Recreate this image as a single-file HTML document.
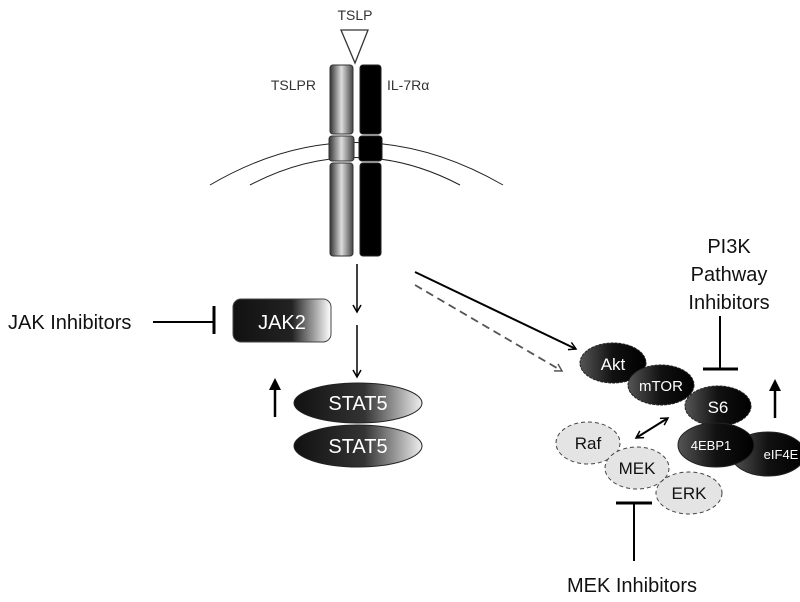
<!DOCTYPE html>
<html><head><meta charset="utf-8"><style>
html,body{margin:0;padding:0;background:#fff}
svg{display:block;font-family:"Liberation Sans",sans-serif}
</style></head><body>
<svg width="800" height="602" viewBox="0 0 800 602">
<defs>
<linearGradient id="gGray" x1="0" x2="1"><stop offset="0" stop-color="#333"/><stop offset="0.5" stop-color="#ddd"/><stop offset="1" stop-color="#444"/></linearGradient>
<linearGradient id="gDark" x1="0" x2="1"><stop offset="0" stop-color="#111"/><stop offset="0.6" stop-color="#222"/><stop offset="1" stop-color="#fff"/></linearGradient>
<linearGradient id="gOval" x1="0" x2="1"><stop offset="0" stop-color="#555"/><stop offset="0.5" stop-color="#111"/><stop offset="1" stop-color="#000"/></linearGradient>
<linearGradient id="gStat" x1="0" x2="1"><stop offset="0" stop-color="#111"/><stop offset="0.55" stop-color="#333"/><stop offset="1" stop-color="#eee"/></linearGradient>
<marker id="ah" markerWidth="10" markerHeight="10" refX="8" refY="5" orient="auto" markerUnits="userSpaceOnUse"><path d="M1,1 L8,5 L1,9" fill="none" stroke="#000" stroke-width="1.5"/></marker>
<marker id="ahs" markerWidth="10" markerHeight="10" refX="8" refY="5" orient="auto-start-reverse" markerUnits="userSpaceOnUse"><path d="M1,1 L8,5 L1,9" fill="none" stroke="#000" stroke-width="1.5"/></marker>
<marker id="ahg" markerWidth="10" markerHeight="10" refX="8" refY="5" orient="auto" markerUnits="userSpaceOnUse"><path d="M1,1 L8,5 L1,9" fill="none" stroke="#555" stroke-width="1.5"/></marker>
<marker id="ahf" markerWidth="12" markerHeight="12" refX="6" refY="6" orient="auto" markerUnits="userSpaceOnUse"><path d="M0,0 L12,6 L0,12 z" fill="#000"/></marker>
</defs>

<text x="355" y="20" font-size="14" text-anchor="middle" fill="#333">TSLP</text>
<polygon points="341,30 368,30 355,63" fill="#fff" stroke="#333" stroke-width="1.3"/>
<text x="316" y="90" font-size="14" text-anchor="end" fill="#333">TSLPR</text>
<text x="387" y="90" font-size="14" fill="#333">IL-7Rα</text>

<path d="M210,185 Q355,100 503,185" fill="none" stroke="#222" stroke-width="1"/>
<path d="M250,185 Q355,130 460,185" fill="none" stroke="#222" stroke-width="1"/>

<g stroke="#333" stroke-width="1">
<rect x="330" y="65" width="23" height="69" rx="3" fill="url(#gGray)"/>
<rect x="329" y="136" width="25" height="25" rx="3" fill="url(#gGray)"/>
<rect x="330" y="163" width="23" height="93" rx="3" fill="url(#gGray)"/>
</g>
<g fill="#000" stroke="#222" stroke-width="1">
<rect x="360" y="65" width="21" height="69" rx="3"/>
<rect x="359" y="136" width="23" height="25" rx="3"/>
<rect x="360" y="163" width="21" height="93" rx="3"/>
</g>

<line x1="357" y1="264" x2="357" y2="312" stroke="#000" stroke-width="1.5" marker-end="url(#ah)"/>
<line x1="357" y1="325" x2="357" y2="377" stroke="#000" stroke-width="1.5" marker-end="url(#ah)"/>

<text x="8" y="329" font-size="20" fill="#111">JAK Inhibitors</text>
<line x1="153" y1="322" x2="214" y2="322" stroke="#000" stroke-width="2"/>
<line x1="214" y1="306" x2="214" y2="334" stroke="#000" stroke-width="3"/>
<rect x="233" y="299" width="98" height="43" rx="8" fill="url(#gDark)" stroke="#444"/>
<text x="282" y="329" font-size="20" fill="#fff" text-anchor="middle">JAK2</text>

<line x1="275" y1="417" x2="275" y2="384" stroke="#000" stroke-width="2.5" marker-end="url(#ahf)"/>
<ellipse cx="358" cy="403" rx="64" ry="20" fill="url(#gStat)" stroke="#222"/>
<text x="358" y="410" font-size="20" fill="#fff" text-anchor="middle">STAT5</text>
<ellipse cx="358" cy="446" rx="64" ry="21" fill="url(#gStat)" stroke="#222"/>
<text x="358" y="453" font-size="20" fill="#fff" text-anchor="middle">STAT5</text>

<line x1="415" y1="272" x2="576" y2="349" stroke="#000" stroke-width="2" marker-end="url(#ah)"/>
<line x1="415" y1="285" x2="562" y2="371" stroke="#555" stroke-width="1.8" stroke-dasharray="8,5" marker-end="url(#ahg)"/>

<text x="729" y="253" font-size="20" fill="#111" text-anchor="middle">PI3K</text>
<text x="729" y="281" font-size="20" fill="#111" text-anchor="middle">Pathway</text>
<text x="729" y="309" font-size="20" fill="#111" text-anchor="middle">Inhibitors</text>
<line x1="720" y1="316" x2="720" y2="369" stroke="#000" stroke-width="2"/>
<line x1="703" y1="369" x2="738" y2="369" stroke="#000" stroke-width="3"/>
<line x1="775" y1="418" x2="775" y2="385" stroke="#000" stroke-width="2.5" marker-end="url(#ahf)"/>

<g font-size="17" text-anchor="middle">
<ellipse cx="613" cy="363" rx="33" ry="20" fill="url(#gOval)" stroke="#222" stroke-dasharray="3,1"/>
<text x="613" y="370" fill="#fff">Akt</text>
<ellipse cx="661" cy="385" rx="33" ry="20" fill="url(#gOval)" stroke="#222" stroke-dasharray="3,1"/>
<text x="661" y="391" font-size="15" fill="#fff">mTOR</text>
<ellipse cx="718" cy="406" rx="33" ry="20" fill="url(#gOval)" stroke="#222" stroke-dasharray="3,1"/>
<text x="718" y="413" fill="#fff">S6</text>
<ellipse cx="768" cy="454" rx="37" ry="22" fill="url(#gOval)" stroke="#222"/>
<text x="781" y="459" font-size="13" fill="#fff">eIF4E</text>
<ellipse cx="716" cy="445" rx="38" ry="22" fill="url(#gOval)" stroke="#222"/>
<text x="711" y="450" font-size="13" fill="#fff">4EBP1</text>
<line x1="636" y1="438" x2="668" y2="418" stroke="#000" stroke-width="2" marker-start="url(#ahs)" marker-end="url(#ahs)"/>
<ellipse cx="588" cy="443" rx="32" ry="21" fill="#e4e4e4" stroke="#444" stroke-dasharray="4,3"/>
<text x="588" y="449" fill="#111">Raf</text>
<ellipse cx="637" cy="468" rx="32" ry="21" fill="#e4e4e4" stroke="#444" stroke-dasharray="4,3"/>
<text x="637" y="474" fill="#111">MEK</text>
<ellipse cx="689" cy="493" rx="33" ry="21" fill="#e4e4e4" stroke="#444" stroke-dasharray="4,3"/>
<text x="689" y="499" fill="#111">ERK</text>
</g>

<line x1="616" y1="503" x2="652" y2="503" stroke="#000" stroke-width="3"/>
<line x1="634" y1="503" x2="634" y2="561" stroke="#000" stroke-width="2"/>
<text x="632" y="592" font-size="20" fill="#111" text-anchor="middle">MEK Inhibitors</text>
</svg>
</body></html>
